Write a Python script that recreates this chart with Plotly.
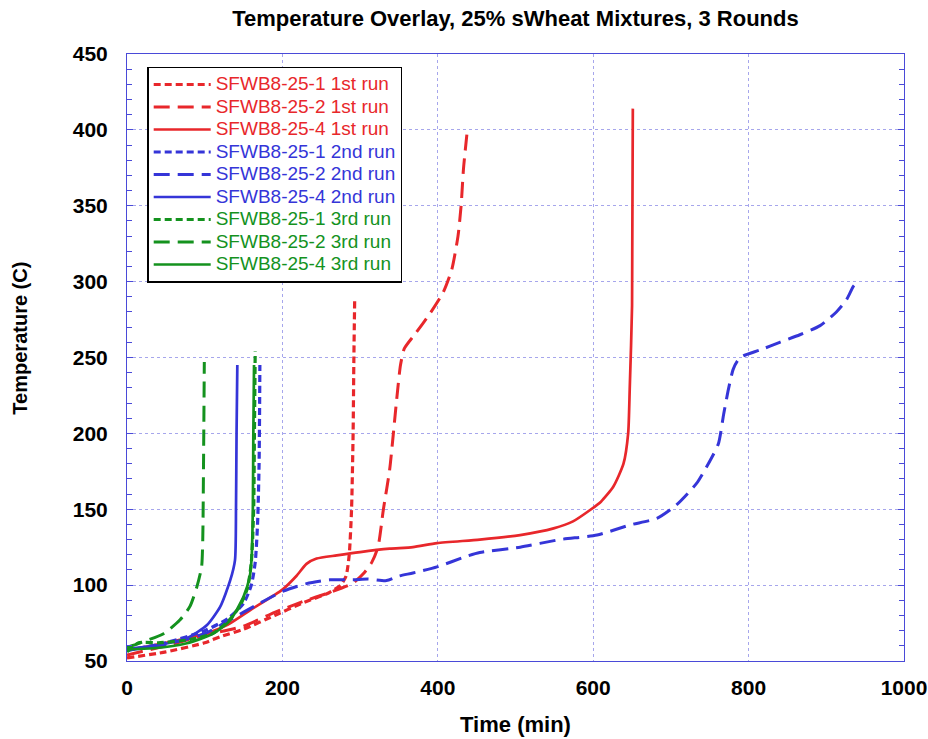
import plotly.graph_objects as go

# ---- Temperature traces (time in min, temperature in C) ----
# Round 1
r1_s1_t = [0, 50, 100, 120, 150, 190, 225, 260, 275, 282, 286, 289, 291, 292, 293]
r1_s1_T = [52, 56, 62, 66, 71, 80, 88, 95, 100, 106, 120, 150, 200, 250, 287]

r1_s2_t = [0, 50, 100, 150, 190, 225, 260, 290, 305, 315, 323, 330, 338, 347, 352, 357,
           370, 390, 407, 418, 426, 430, 433, 438]
r1_s2_T = [54, 60, 67, 73, 82, 89, 95, 101, 108, 115, 125, 150, 176, 222, 245, 256,
           265, 279, 293, 308, 330, 350, 374, 400]

r1_s4_t = [0, 50, 100, 130, 160, 200, 218, 231, 244, 270, 300, 338, 368, 399, 454, 506,
           549, 574, 596, 610, 626, 639, 645, 647, 650, 651]
r1_s4_T = [57, 62, 68, 74, 84, 97, 106, 114, 117.5, 119.6, 121.8, 124, 125, 127.7, 130, 133,
           137.4, 142, 149.5, 155, 165, 180, 200, 229, 284, 414]

# Round 2
r2_s1_t = [0, 50, 100, 130, 150, 160, 165, 168, 170, 171]
r2_s1_T = [57, 62, 70, 78, 88, 100, 115, 140, 180, 245]

r2_s2_t = [0, 50, 100, 132, 167, 201, 231, 261, 291, 310, 334, 350, 368, 399, 437, 454,
           506, 557, 605, 647, 682, 707, 733, 746, 761, 768, 774, 780, 786, 793, 815,
           840, 866, 892, 913, 926, 935, 941]
r2_s2_T = [57, 61, 68, 77, 87, 96, 101, 103.5, 103.5, 104, 103, 106, 108, 112, 119, 121.5,
           125, 130, 133, 139.6, 144, 152.8, 167, 178, 193, 213, 229, 242, 248, 251, 255,
           260, 265, 271, 280, 288, 297, 300]

r2_s4_t = [0, 34, 77, 103, 120, 133, 139, 140.3, 141, 142]
r2_s4_T = [58, 60, 65, 73.7, 85.8, 103.4, 116.5, 151, 200, 245]

# Round 3
r3_s1_t = [0, 15, 40, 80, 110, 130, 145, 155, 160, 163, 164, 165]
r3_s1_T = [56, 62, 62, 64, 68, 76, 86, 98, 115, 150, 200, 254]

r3_s2_t = [0, 17, 47, 68, 81, 90, 96, 97.5, 98.5, 99.5]
r3_s2_T = [59, 62, 68, 77, 86, 99, 112, 130, 180, 247]

r3_s4_t = [0, 34, 77, 111, 133, 150, 158, 160.5, 162, 162.6, 163.5]
r3_s4_T = [57.7, 58.4, 61.7, 68, 77, 92.4, 105.6, 119, 152, 200, 245]

labels = ["SFWB8-25-1 1st run", "SFWB8-25-2 1st run", "SFWB8-25-4 1st run",
          "SFWB8-25-1 2nd run", "SFWB8-25-2 2nd run", "SFWB8-25-4 2nd run",
          "SFWB8-25-1 3rd run", "SFWB8-25-2 3rd run", "SFWB8-25-4 3rd run"]

x_ticks = [0, 200, 400, 600, 800, 1000]
y_ticks = [50, 100, 150, 200, 250, 300, 350, 400, 450]

RED, BLUE, GREEN = "#e8272b", "#3535d8", "#14921e"
DOT = "7px,4px"
DASH = "16px,8px"

series = [
    (r1_s1_t, r1_s1_T, RED, DOT, 3.2),
    (r1_s2_t, r1_s2_T, RED, DASH, 3.0),
    (r1_s4_t, r1_s4_T, RED, "solid", 2.7),
    (r2_s1_t, r2_s1_T, BLUE, DOT, 3.2),
    (r2_s2_t, r2_s2_T, BLUE, DASH, 3.0),
    (r2_s4_t, r2_s4_T, BLUE, "solid", 2.7),
    (r3_s1_t, r3_s1_T, GREEN, DOT, 3.2),
    (r3_s2_t, r3_s2_T, GREEN, DASH, 3.0),
    (r3_s4_t, r3_s4_T, GREEN, "solid", 2.7),
]

fig = go.Figure()
for (t, T, col, dash, w), name in zip(series, labels):
    fig.add_trace(go.Scatter(
        x=t, y=T, mode="lines",
        name=f'<span style="color:{col};font-size:19px">{name}</span>',
        line=dict(color=col, dash=dash, width=w, shape="spline", smoothing=0.6),
    ))

FONT = "Arial, Liberation Sans, sans-serif"
AXIS_COL = "#4a4ad8"
GRID_COL = "#a6a6ec"

fig.update_layout(
    width=928, height=739,
    margin=dict(l=127, r=24, t=54, b=78, autoexpand=False),
    paper_bgcolor="white", plot_bgcolor="white",
    font=dict(family=FONT, color="black"),
    title=dict(text="<b>Temperature Overlay, 25% sWheat Mixtures, 3 Rounds</b>",
               x=0.5, xref="paper", xanchor="center", y=0.975, yanchor="middle",
               font=dict(size=22, family=FONT, color="black")),
    showlegend=True,
    legend=dict(x=0.026, y=0.979, xanchor="left", yanchor="top",
                bgcolor="white", bordercolor="black", borderwidth=1.5,
                font=dict(size=15, family=FONT), itemwidth=57,
                tracegroupgap=0),
    annotations=[dict(text="<b>Temperature (C)</b>", textangle=-90,
                      xref="paper", yref="paper", x=-0.137, y=0.532,
                      xanchor="center", yanchor="middle", showarrow=False,
                      font=dict(size=20, family=FONT, color="black"))],
)

fig.update_xaxes(
    range=[0, 1000], tickvals=x_ticks, ticktext=[str(v) for v in x_ticks],
    showgrid=True, gridcolor=GRID_COL, griddash="dot", gridwidth=1,
    showline=True, linecolor=AXIS_COL, linewidth=1, mirror="ticks",
    ticks="inside", ticklen=0, tickcolor=AXIS_COL,
    zeroline=False, automargin=False, ticklabelstandoff=8,
    tickfont=dict(size=21, family=FONT, color="black", weight="bold"),
    title=dict(text="<b>Time (min)</b>", font=dict(size=22, family=FONT), standoff=18),
)
fig.update_yaxes(
    range=[50, 450], tickvals=y_ticks, ticktext=[str(v) for v in y_ticks],
    showgrid=True, gridcolor=GRID_COL, griddash="dot", gridwidth=1,
    showline=True, linecolor=AXIS_COL, linewidth=1, mirror="ticks",
    ticks="inside", ticklen=6, tickcolor=AXIS_COL,
    minor=dict(dtick=10, ticks="inside", ticklen=5, tickcolor=AXIS_COL, showgrid=False),
    zeroline=False, automargin=False, ticklabelstandoff=14,
    tickfont=dict(size=21, family=FONT, color="black", weight="bold"),
)

fig.write_html("out.html")
